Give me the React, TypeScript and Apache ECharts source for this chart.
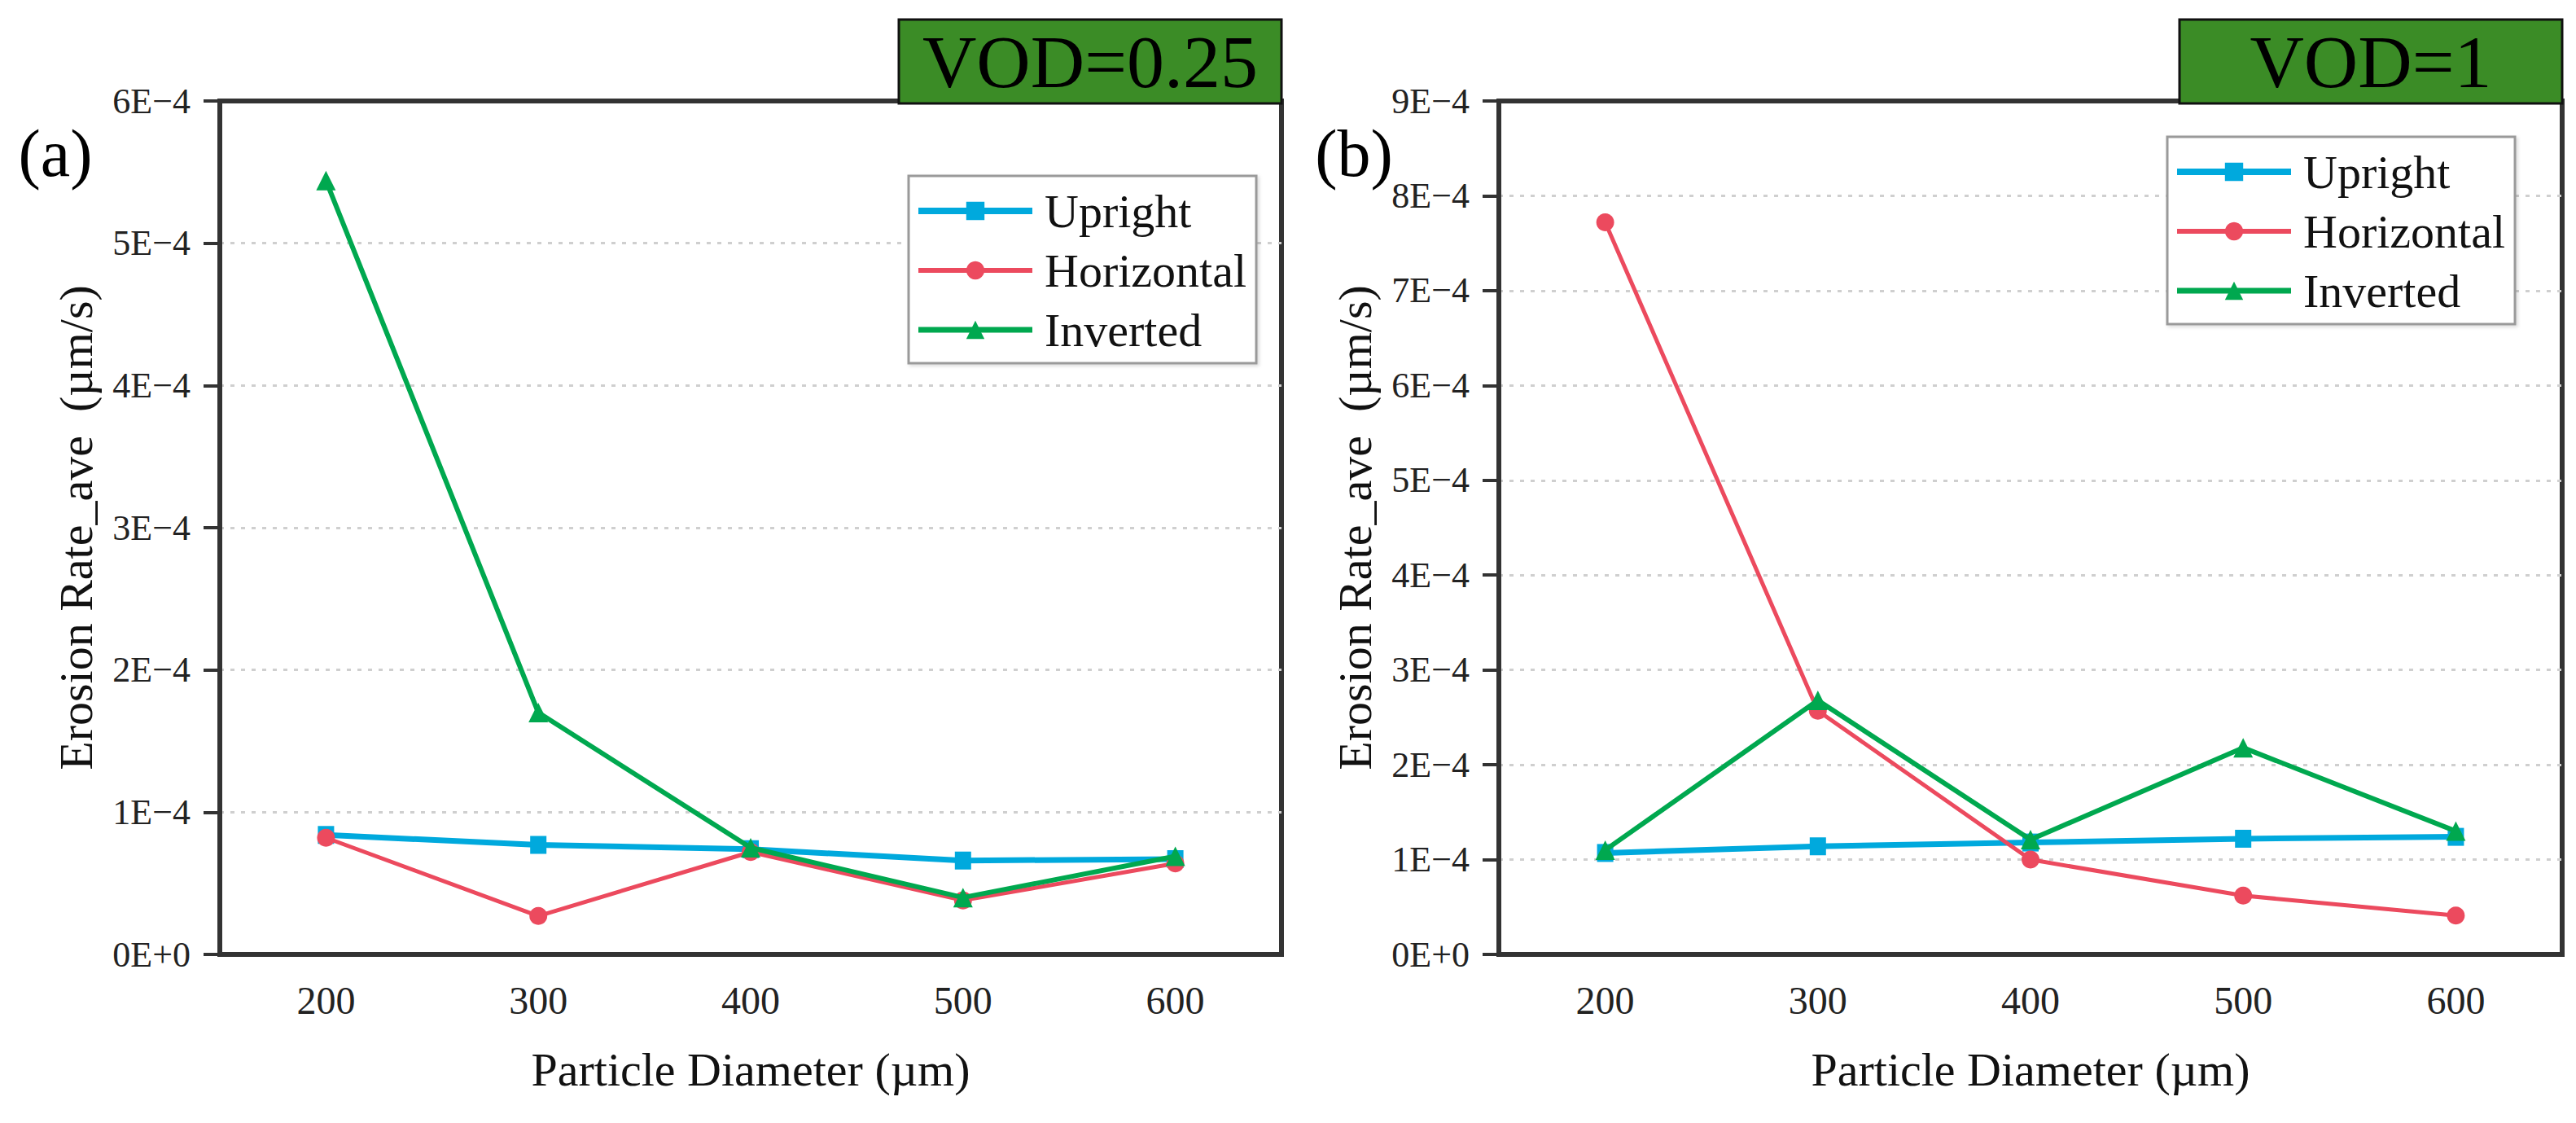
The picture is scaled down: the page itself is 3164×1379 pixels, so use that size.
import React, { useEffect, useRef } from "react";
import * as echarts from "echarts";

const categories = ["200", "300", "400", "500", "600"];
const seriesNames = ["Upright", "Horizontal", "Inverted"];

// Panel (a) VOD = 0.25
const uprightA = [0.84e-4, 0.77e-4, 0.74e-4, 0.66e-4, 0.67e-4];
const horizontalA = [0.82e-4, 0.27e-4, 0.72e-4, 0.38e-4, 0.64e-4];
const invertedA = [5.44e-4, 1.7e-4, 0.75e-4, 0.4e-4, 0.69e-4];

// Panel (b) VOD = 1
const uprightB = [1.07e-4, 1.14e-4, 1.18e-4, 1.22e-4, 1.24e-4];
const horizontalB = [7.72e-4, 2.57e-4, 1.0e-4, 0.62e-4, 0.41e-4];
const invertedB = [1.1e-4, 2.68e-4, 1.21e-4, 2.18e-4, 1.3e-4];

const yMaxA = 6e-4;
const yMaxB = 9e-4;
const yInterval = 1e-4;

const panelLabels = ["(a)", "(b)"];
const vodLabels = ["VOD=0.25", "VOD=1"];
const xTitle = "Particle Diameter (\u00B5m)";
const yTitle = "Erosion Rate_ave  (\u00B5m/s)";

const COLORS = ["#00A9DD", "#EC4A5E", "#00A84F"];
const FONT = "Liberation Serif";

const fmt = (v: number) => {
  const n = Math.round(v * 1e4);
  return n === 0 ? "0E+0" : `${n}E\u22124`;
};

export default function App() {
  const ref = useRef<HTMLDivElement>(null);
  useEffect(() => {
    document.body.style.margin = "0";
    if (!ref.current) return;
    const chart = echarts.init(ref.current, null, { renderer: "svg" });

    const grids = [
      { left: 270, top: 124, width: 1304, height: 1048 },
      { left: 1841, top: 124, width: 1306, height: 1048 },
    ];
    const data = [
      [uprightA, horizontalA, invertedA],
      [uprightB, horizontalB, invertedB],
    ];
    const yMax = [yMaxA, yMaxB];
    const symbols = ["rect", "circle", "triangle"];
    const symbolSizes: any[] = [[20, 22], 22, 24];
    const widths = [7, 5, 6];

    const series: any[] = [];
    data.forEach((panel, gi) => {
      panel.forEach((vals, si) => {
        series.push({
          type: "line",
          name: seriesNames[si],
          xAxisIndex: gi,
          yAxisIndex: gi,
          data: vals,
          symbol: symbols[si],
          symbolSize: symbolSizes[si],
          lineStyle: { width: widths[si], color: COLORS[si] },
          itemStyle: { color: COLORS[si] },
          z: 3 + si,
        });
      });
    });

    const legends = [
      { left: 1116, top: 216 },
      { left: 2662, top: 168 },
    ].map((p) => ({
      ...p,
      orient: "vertical",
      data: seriesNames.map((n, i) => ({
        name: n,
        lineStyle: { width: widths[i] + 1, color: COLORS[i] },
      })),
      itemWidth: 140,
      itemHeight: 28,
      itemGap: 13,
      padding: [13, 12, 11, 8],
      borderColor: "#9a9a9a",
      borderWidth: 3,
      backgroundColor: "#fff",
      shadowColor: "rgba(0,0,0,0.15)",
      shadowBlur: 4,
      shadowOffsetX: 2,
      shadowOffsetY: 2,
      selectedMode: false,
      textStyle: {
        fontFamily: FONT,
        fontSize: 58,
        lineHeight: 60,
        color: "#111",
        padding: [0, 0, 0, 10],
      },
    }));

    const graphics: any[] = [];
    grids.forEach((g, i) => {
      const boxW = 470;
      const right = g.left + g.width;
      graphics.push({
        type: "rect",
        shape: { x: right - boxW, y: 24, width: boxW, height: 103 },
        style: { fill: "#3B8C26", stroke: "#111", lineWidth: 3 },
        z: 10,
      });
      graphics.push({
        type: "text",
        x: right - boxW / 2,
        y: 76,
        style: {
          text: vodLabels[i],
          fontFamily: FONT,
          fontSize: 92,
          fill: "#000",
          align: "center",
          verticalAlign: "middle",
        },
        z: 11,
      });
      graphics.push({
        type: "text",
        x: i === 0 ? 68 : 1663,
        y: 188,
        style: {
          text: panelLabels[i],
          fontFamily: FONT,
          fontSize: 82,
          fill: "#000",
          align: "center",
          verticalAlign: "middle",
        },
        z: 11,
      });
    });

    chart.setOption({
      animation: false,
      backgroundColor: "#fff",
      textStyle: { fontFamily: FONT },
      grid: grids.map((g) => ({
        ...g,
        show: true,
        borderColor: "#333",
        borderWidth: 6,
        backgroundColor: "transparent",
      })),
      xAxis: grids.map((_, i) => ({
        type: "category",
        gridIndex: i,
        data: categories,
        boundaryGap: true,
        axisLine: { lineStyle: { color: "#333", width: 6 } },
        axisTick: {
          alignWithLabel: true,
          length: 20,
          lineStyle: { color: "#333", width: 4 },
        },
        axisLabel: {
          fontFamily: FONT,
          fontSize: 48,
          color: "#222",
          margin: 32,
        },
        splitLine: { show: false },
        name: xTitle,
        nameLocation: "middle",
        nameGap: 112,
        nameTextStyle: { fontFamily: FONT, fontSize: 58, color: "#111" },
      })),
      yAxis: grids.map((_, i) => ({
        type: "value",
        gridIndex: i,
        min: 0,
        max: yMax[i],
        interval: yInterval,
        axisLine: { show: true, lineStyle: { color: "#333", width: 6 } },
        axisTick: { show: true, length: 20, lineStyle: { color: "#333", width: 4 } },
        axisLabel: {
          fontFamily: FONT,
          fontSize: 44,
          color: "#222",
          margin: 36,
          formatter: fmt,
        },
        splitLine: {
          show: true,
          showMinLine: false,
          showMaxLine: false,
          lineStyle: { color: "#cfcfcf", width: 3, type: [5, 8] },
        },
        name: yTitle,
        nameLocation: "middle",
        nameGap: 148,
        nameTextStyle: { fontFamily: FONT, fontSize: 58, color: "#111" },
      })),
      legend: legends,
      series,
      graphic: graphics,
    });
    return () => chart.dispose();
  }, []);
  return <div ref={ref} style={{ width: 3164, height: 1379 }} />;
}
